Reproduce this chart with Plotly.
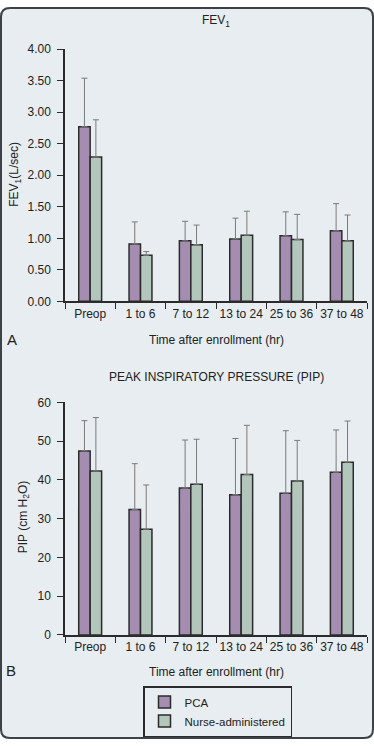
import plotly.graph_objects as go

categories = ["Preop", "1 to 6", "7 to 12", "13 to 24", "25 to 36", "37 to 48"]

fev_pca = [2.77, 0.91, 0.96, 0.99, 1.04, 1.12]
fev_pca_sd = [0.77, 0.35, 0.31, 0.33, 0.38, 0.43]
fev_nurse = [2.29, 0.73, 0.90, 1.05, 0.98, 0.96]
fev_nurse_sd = [0.59, 0.06, 0.31, 0.38, 0.40, 0.41]

pip_pca = [47.5, 32.4, 37.9, 36.2, 36.6, 42.0]
pip_pca_sd = [7.8, 11.8, 12.4, 14.5, 16.1, 10.9]
pip_nurse = [42.3, 27.3, 38.9, 41.4, 39.7, 44.6]
pip_nurse_sd = [13.8, 11.4, 11.6, 12.7, 10.5, 10.6]

W, H = 374, 746
PCA_COLOR = "#a58db1"
NURSE_COLOR = "#b3c6bb"
EDGE = "#2b2b2b"
FONT = "Liberation Sans, Arial, sans-serif"
TXT = "#222222"


def px_x(p):
    return p / W


def px_y(p):
    return 1 - p / H


def bar(name, x, y, sd, color, xa, ya, show):
    return go.Bar(
        name=name, x=x, y=y, xaxis=xa, yaxis=ya, showlegend=show,
        marker=dict(color=color, line=dict(color=EDGE, width=1.5)),
        error_y=dict(type="data", array=sd, arrayminus=[0] * len(sd),
                     symmetric=False, color="#7a7a7a", thickness=1, width=3),
    )


fig = go.Figure()
fig.add_trace(bar("PCA", categories, fev_pca, fev_pca_sd, PCA_COLOR, "x", "y", True))
fig.add_trace(bar("Nurse-administered", categories, fev_nurse, fev_nurse_sd, NURSE_COLOR, "x", "y", True))
fig.add_trace(bar("PCA", categories, pip_pca, pip_pca_sd, PCA_COLOR, "x2", "y2", False))
fig.add_trace(bar("Nurse-administered", categories, pip_nurse, pip_nurse_sd, NURSE_COLOR, "x2", "y2", False))

xdom = [px_x(65), px_x(367)]
axis_common = dict(showline=True, linecolor=EDGE, linewidth=1.5, ticks="outside",
                   tickcolor=EDGE, ticklen=6, showgrid=False, zeroline=False,
                   tickfont=dict(size=12, color=TXT, family=FONT))

# rounded background panel
r = 9
x0, y0, x1, y1 = 1, 1, W - 1, H - 1
path = (f"M {px_x(x0 + r)} {px_y(y0)} L {px_x(x1 - r)} {px_y(y0)} "
        f"Q {px_x(x1)} {px_y(y0)} {px_x(x1)} {px_y(y0 + r)} "
        f"L {px_x(x1)} {px_y(y1 - r)} Q {px_x(x1)} {px_y(y1)} {px_x(x1 - r)} {px_y(y1)} "
        f"L {px_x(x0 + r)} {px_y(y1)} Q {px_x(x0)} {px_y(y1)} {px_x(x0)} {px_y(y1 - r)} "
        f"L {px_x(x0)} {px_y(y0 + r)} Q {px_x(x0)} {px_y(y0)} {px_x(x0 + r)} {px_y(y0)} Z")

fig.update_layout(
    width=W, height=H,
    margin=dict(l=0, r=0, t=0, b=0),
    paper_bgcolor="white", plot_bgcolor="white",
    barmode="group", bargap=0.545, bargroupgap=0,
    font=dict(family=FONT, size=12, color=TXT),
    xaxis=dict(domain=xdom, anchor="y", type="category", tickson="boundaries",
               range=[-0.5, 5.5], tickangle=0, **axis_common),
    yaxis=dict(domain=[px_y(300), px_y(43)], anchor="x", range=[0, 4], dtick=0.5,
               tickformat=".2f", ticklabelstandoff=4, **axis_common),
    xaxis2=dict(domain=xdom, anchor="y2", type="category", tickson="boundaries",
                range=[-0.5, 5.5], tickangle=0, **axis_common),
    yaxis2=dict(domain=[px_y(640), px_y(403)], anchor="x2", range=[0, 60], dtick=10,
                ticklabelstandoff=4, **axis_common),
    legend=dict(x=px_x(143), y=px_y(692), xanchor="left", yanchor="top",
                bgcolor="rgba(0,0,0,0)", bordercolor=EDGE, borderwidth=1.5,
                font=dict(size=11.5, color=TXT, family=FONT),
                itemwidth=30, tracegroupgap=0),
    shapes=[dict(type="path", path=path, xref="paper", yref="paper",
                 fillcolor="#e8edf1", line=dict(color="#3c4247", width=2), layer="below")],
    showlegend=True,
)


def ann(text, x, y, size=12, angle=0):
    fig.add_annotation(text=text, x=px_x(x), y=px_y(y), xref="paper", yref="paper",
                       showarrow=False, textangle=angle, xanchor="center", yanchor="middle",
                       font=dict(size=size, color=TXT, family=FONT))


ann("FEV<sub>1</sub>", 216, 14)
ann("PEAK INSPIRATORY PRESSURE (PIP)", 216, 377)
ann("FEV<sub>1</sub>(L/sec)", 15, 171, angle=-90)
ann("PIP (cm H<sub>2</sub>O)", 24, 520, angle=-90)
ann("Time after enrollment (hr)", 216, 339)
ann("Time after enrollment (hr)", 216, 678)
ann("A", 12, 339, size=15)
ann("B", 11, 676, size=15)

fig.write_html("out.html", config={"displayModeBar": False},
               post_script="document.body.style.margin='0';document.body.style.overflow='hidden';")
